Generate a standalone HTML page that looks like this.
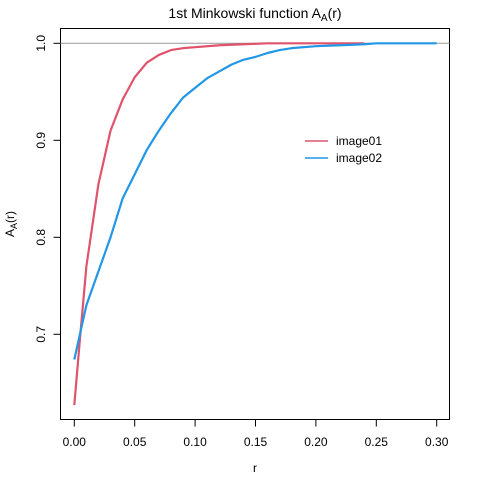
<!DOCTYPE html>
<html><head><meta charset="utf-8"><style>
body{margin:0;background:#fff}
svg{display:block;font-family:"Liberation Sans",Arial,sans-serif}
</style></head><body>
<svg id="c" width="480" height="480">
<rect x="60.5" y="28.5" width="389" height="391" fill="none" stroke="#000"/>
<text x="255" y="18" font-size="14" text-anchor="middle">1st Minkowski function A<tspan font-size="10" dy="3">A</tspan><tspan dy="-3">(r)</tspan></text>
<text x="255" y="472" font-size="12" text-anchor="middle">r</text>
<text transform="translate(14,224) rotate(-90)" font-size="12" text-anchor="middle">A<tspan font-size="9" dy="3">A</tspan><tspan dy="-3">(r)</tspan></text>
<g id="xa"></g>
<g id="ya"></g>
<line x1="60.5" x2="449.5" y1="43.3" y2="43.3" stroke="#999" stroke-width="1"/>
<g id="series"></g>
<g>
<line x1="305" x2="328" y1="141" y2="141" stroke="#DF536B" stroke-width="1.5"/>
<text x="336" y="145" font-size="12">image01</text>
<line x1="305" x2="328" y1="158" y2="158" stroke="#2297E6" stroke-width="1.5"/>
<text x="336" y="162" font-size="12">image02</text>
</g>
</svg>
<script>
const xTicks=[0,0.05,0.10,0.15,0.20,0.25,0.30];
const xTickLabels=["0.00","0.05","0.10","0.15","0.20","0.25","0.30"];
const yTicks=[0.7,0.8,0.9,1.0];
const yTickLabels=["0.7","0.8","0.9","1.0"];
const r1=[0,0.005,0.01,0.02,0.03,0.04,0.05,0.06,0.07,0.08,0.09,0.10,0.12,0.14,0.16,0.24];
const v1=[0.627,0.70,0.77,0.855,0.91,0.942,0.965,0.98,0.988,0.993,0.995,0.996,0.998,0.999,1.0,1.0];
const r2=[0,0.01,0.02,0.03,0.04,0.05,0.06,0.07,0.08,0.09,0.10,0.11,0.12,0.13,0.14,0.15,0.16,0.17,0.18,0.20,0.22,0.24,0.25,0.30];
const v2=[0.674,0.73,0.765,0.80,0.84,0.865,0.89,0.91,0.928,0.944,0.954,0.964,0.971,0.978,0.983,0.986,0.99,0.993,0.995,0.997,0.998,0.999,1.0,1.0];
const NS="http://www.w3.org/2000/svg";
const X=v=>74.3+v*1208; const Y=v=>43.3+(1-v)*970;
function mk(t,a,p){const e=document.createElementNS(NS,t);for(const k in a)e.setAttribute(k,a[k]);p.appendChild(e);return e;}
const xa=document.getElementById('xa'),ya=document.getElementById('ya'),sg=document.getElementById('series');
mk('line',{x1:X(0),x2:X(0.30),y1:419.5,y2:419.5,stroke:'#000'},xa);
xTicks.forEach((t,i)=>{
 const l=mk('line',{x1:X(t),x2:X(t),y1:419.5,y2:426.5,stroke:'#000'},xa);
 
 
 const tx=mk('text',{x:X(t),y:446,'font-size':12,'text-anchor':'middle'},xa);tx.textContent=xTickLabels[i];
 
 
});
mk('line',{x1:60.5,x2:60.5,y1:Y(0.7),y2:Y(1.0),stroke:'#000'},ya);
yTicks.forEach((t,i)=>{
 const l=mk('line',{x1:53.5,x2:60.5,y1:Y(t),y2:Y(t),stroke:'#000'},ya);
 
 
 const tx=mk('text',{x:0,y:0,'font-size':12,'text-anchor':'middle',transform:`translate(45,${Y(t)}) rotate(-90)`},ya);tx.textContent=yTickLabels[i];
 
 
});
function line(rs,vs,col,name){
 const p=mk('polyline',{points:rs.map((r,i)=>X(r)+','+Y(vs[i])).join(' '),fill:'none',stroke:col,'stroke-width':2.2,'stroke-linejoin':'round'},sg);
 
 
}
line(r1,v1,'#DF536B','line-image01');
line(r2,v2,'#2297E6','line-image02');
</script>
</body></html>
